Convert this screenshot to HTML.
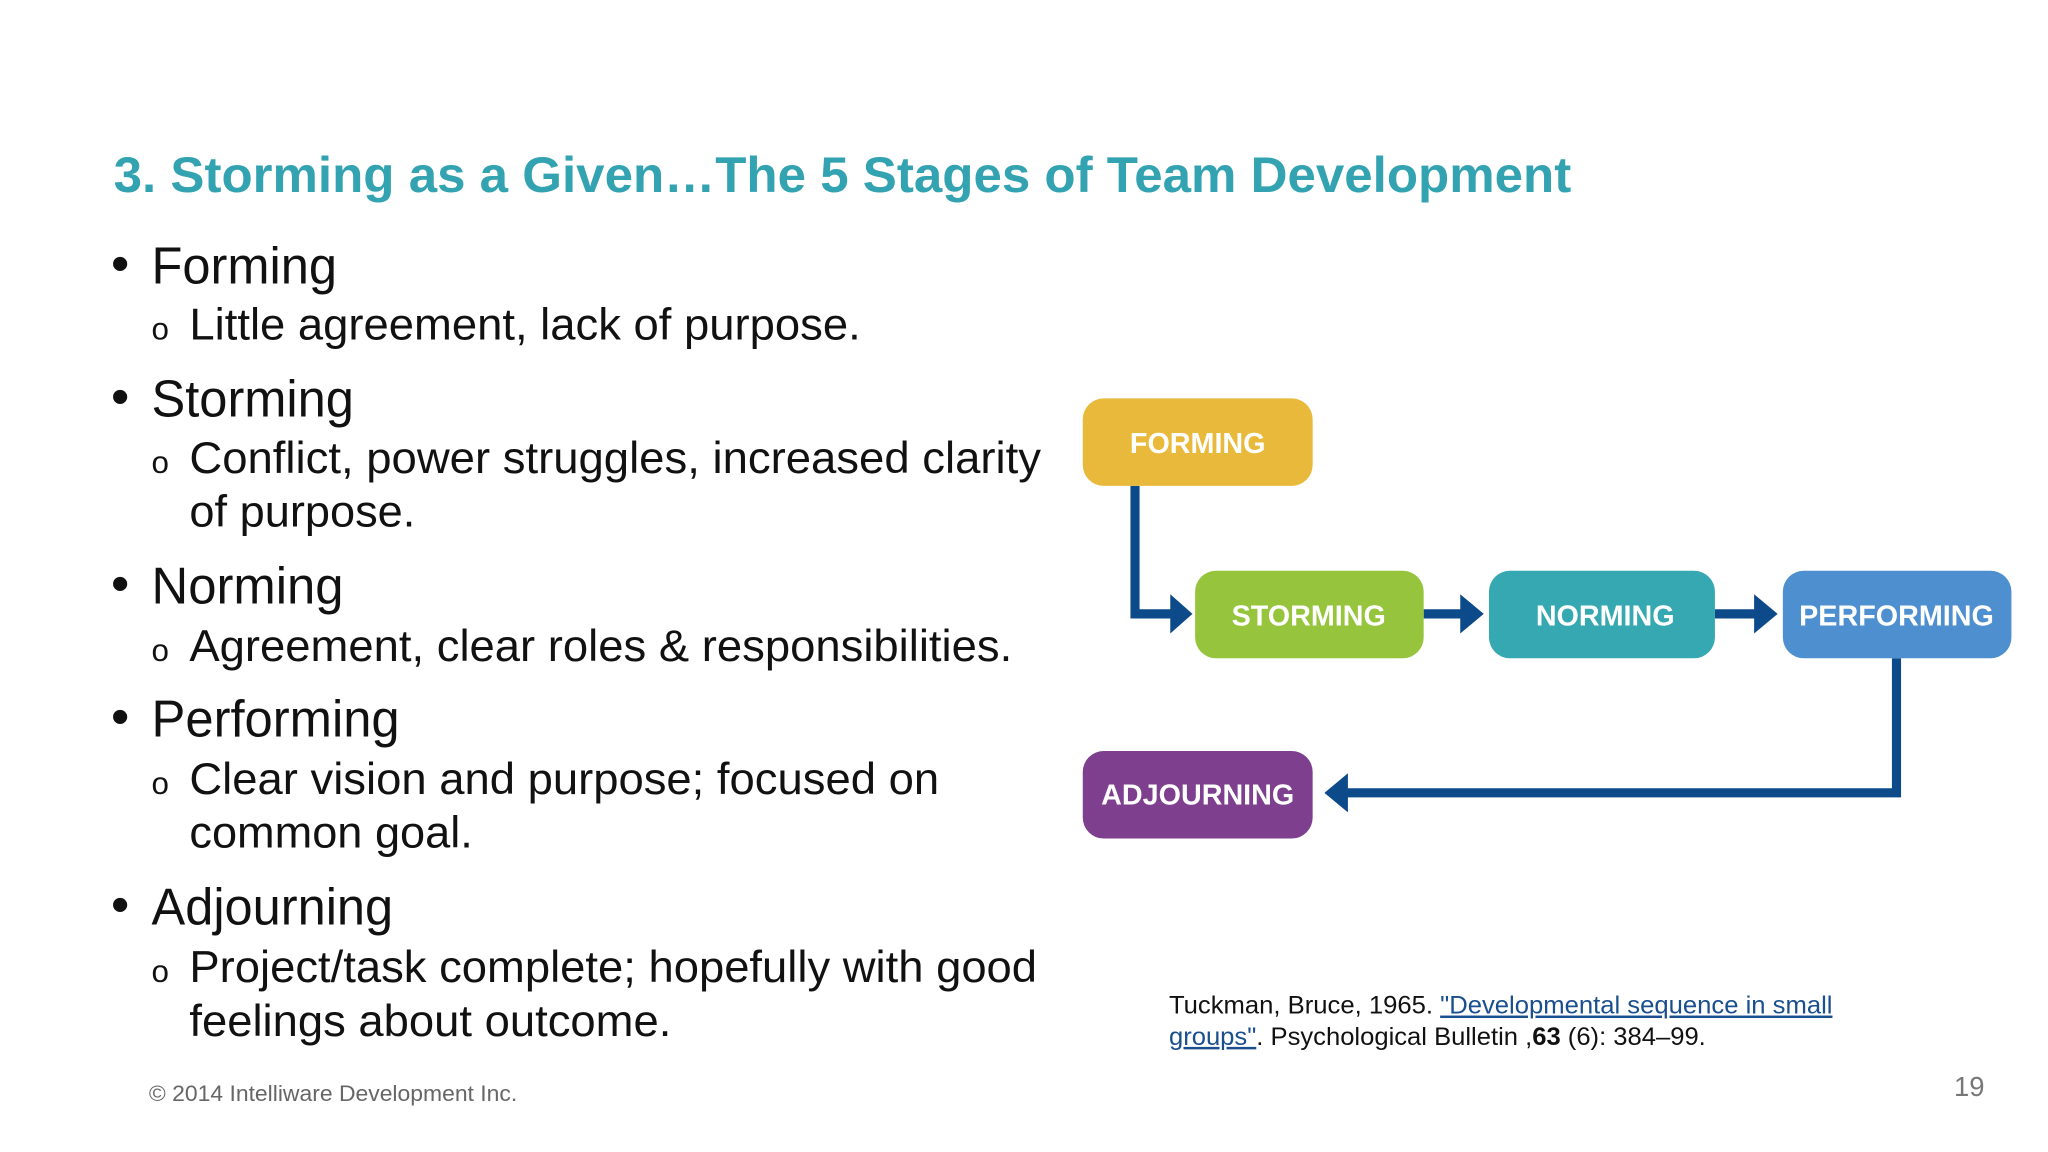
<!DOCTYPE html>
<html><head><meta charset="utf-8"><style>html,body{margin:0;padding:0;background:#fff}svg{display:block}</style></head>
<body>
<svg width="2048" height="1152" viewBox="0 0 1568 882" xmlns="http://www.w3.org/2000/svg" font-family="Liberation Sans, Arial, sans-serif">
<rect width="1568" height="882" fill="#fff"/>
<text x="87" y="147" font-size="38" font-weight="bold" fill="#33a3b2" textLength="1116" lengthAdjust="spacingAndGlyphs">3. Storming as a Given…The 5 Stages of Team Development</text>
<g fill="#111">
<g font-size="40">
<text x="85" y="215">•</text><text x="116" y="217" textLength="142" lengthAdjust="spacingAndGlyphs">Forming</text>
<text x="85" y="317">•</text><text x="116" y="319" textLength="155" lengthAdjust="spacingAndGlyphs">Storming</text>
<text x="85" y="460">•</text><text x="116" y="462" textLength="147" lengthAdjust="spacingAndGlyphs">Norming</text>
<text x="85" y="562">•</text><text x="116" y="564" textLength="190" lengthAdjust="spacingAndGlyphs">Performing</text>
<text x="85" y="706">•</text><text x="116" y="708" textLength="185" lengthAdjust="spacingAndGlyphs">Adjourning</text>
</g>
<g font-size="34">
<text x="116" y="260" font-size="24">o</text><text x="145" y="260" textLength="514" lengthAdjust="spacingAndGlyphs">Little agreement, lack of purpose.</text>
<text x="116" y="362" font-size="24">o</text><text x="145" y="362" textLength="652" lengthAdjust="spacingAndGlyphs">Conflict, power struggles, increased clarity</text>
<text x="145" y="403" textLength="173" lengthAdjust="spacingAndGlyphs">of purpose.</text>
<text x="116" y="506" font-size="24">o</text><text x="145" y="506" textLength="630" lengthAdjust="spacingAndGlyphs">Agreement, clear roles &amp; responsibilities.</text>
<text x="116" y="608" font-size="24">o</text><text x="145" y="608" textLength="574" lengthAdjust="spacingAndGlyphs">Clear vision and purpose; focused on</text>
<text x="145" y="649" textLength="217" lengthAdjust="spacingAndGlyphs">common goal.</text>
<text x="116" y="752" font-size="24">o</text><text x="145" y="752" textLength="649" lengthAdjust="spacingAndGlyphs">Project/task complete; hopefully with good</text>
<text x="145" y="793" textLength="369" lengthAdjust="spacingAndGlyphs">feelings about outcome.</text>
</g>
</g>
<text x="114" y="843" font-size="17" fill="#666" textLength="282" lengthAdjust="spacingAndGlyphs">© 2014 Intelliware Development Inc.</text>
<text x="1496" y="839" font-size="21" fill="#777">19</text>
<g font-size="19" fill="#111">
<text x="895" y="776" textLength="508" lengthAdjust="spacingAndGlyphs">Tuckman, Bruce, 1965. <tspan fill="#1a4f8f" text-decoration="underline">"Developmental sequence in small</tspan></text>
<text x="895" y="800" textLength="411" lengthAdjust="spacingAndGlyphs"><tspan fill="#1a4f8f" text-decoration="underline">groups"</tspan>. Psychological Bulletin ,<tspan font-weight="bold">63</tspan> (6): 384–99.</text>
</g>
<g stroke="#0d4a8a" stroke-width="7" fill="none">
<polyline points="869,372 869,470 900,470"/>
<line x1="1090" y1="470" x2="1122" y2="470"/>
<line x1="1313" y1="470" x2="1347" y2="470"/>
<polyline points="1452,504 1452,607 1028,607"/>
</g>
<g fill="#0d4a8a">
<polygon points="896,455 913,470 896,485"/>
<polygon points="1118,455 1136,470 1118,485"/>
<polygon points="1343,455 1361,470 1343,485"/>
<polygon points="1032,592 1014,607 1032,622"/>
</g>
<g font-size="22" font-weight="bold" fill="#fff" text-anchor="middle">
<rect x="829" y="305" width="176" height="67" rx="16" fill="#e9b93b"/><text x="917" y="347">FORMING</text>
<rect x="915" y="437" width="175" height="67" rx="16" fill="#96c53d"/><text x="1002" y="479">STORMING</text>
<rect x="1140" y="437" width="173" height="67" rx="16" fill="#35a8b1"/><text x="1229" y="479">NORMING</text>
<rect x="1365" y="437" width="175" height="67" rx="16" fill="#4e8fd0"/><text x="1452" y="479">PERFORMING</text>
<rect x="829" y="575" width="176" height="67" rx="16" fill="#7e3f8e"/><text x="917" y="616">ADJOURNING</text>
</g>
</svg>
</body></html>
